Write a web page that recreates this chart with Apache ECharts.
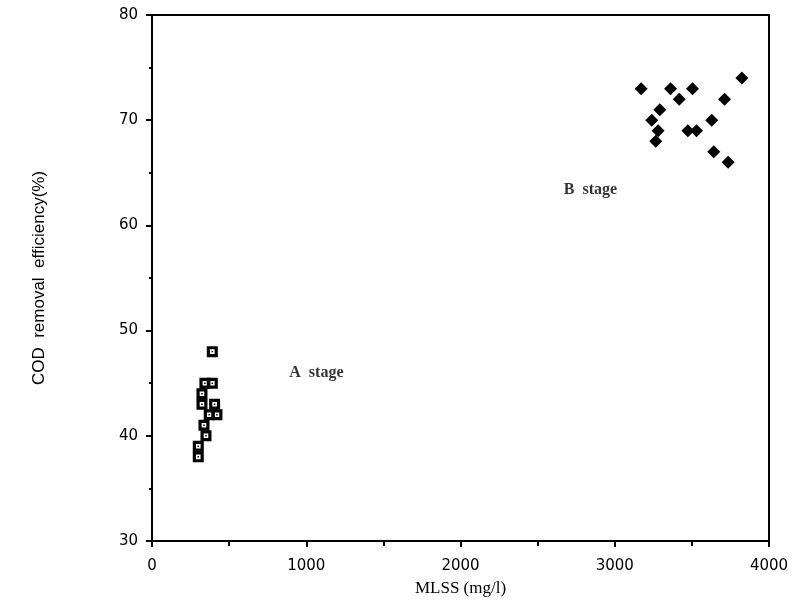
<!DOCTYPE html>
<html>
<head>
<meta charset="utf-8">
<script src="https://cdn.jsdelivr.net/npm/echarts@6/dist/echarts.min.js"></script>
<style>html,body{margin:0;padding:0;background:#fff}#c{width:798px;height:608px}</style>
</head>
<body>
<div id="c"></div>
<script>
// A stage (open squares)
const aStageX = [391, 343, 391, 324, 324, 406, 371, 421, 337, 350, 300, 300];
const aStageY = [48, 45, 45, 44, 43, 43, 42, 42, 41, 40, 39, 38];
// B stage (filled diamonds)
const bStageX = [3171, 3362, 3504, 3824, 3418, 3712, 3292, 3240, 3629, 3281, 3474, 3530, 3266, 3642, 3735];
const bStageY = [73, 73, 73, 74, 72, 72, 71, 70, 70, 69, 69, 69, 68, 67, 66];
// Annotations (data units)
const annotations = [
  { text: 'A  stage', x: 890, y: 46 },
  { text: 'B  stage', x: 2670, y: 63.4 }
];
const xTicks = { min: 0, max: 4000, interval: 1000 };
const yTicks = { min: 30, max: 80, interval: 10 };

const squareSymbol = 'path://M0 0L12 0L12 12L0 12Z M3.5 3.5L3.5 8.5L8.5 8.5L8.5 3.5Z M5.2 5.2L6.8 5.2L6.8 6.8L5.2 6.8Z';

const chart = echarts.init(document.getElementById('c'), null, { renderer: 'canvas' });
const tickFont = 'DejaVu Sans, sans-serif';
chart.setOption({
  animation: false,
  backgroundColor: '#fff',
  grid: { left: 152, right: 29, top: 15, bottom: 67, show: true, borderColor: '#000', borderWidth: 2 },
  xAxis: {
    type: 'value', min: xTicks.min, max: xTicks.max, interval: xTicks.interval,
    name: 'MLSS (mg/l)', nameLocation: 'middle', nameGap: 39,
    nameTextStyle: { fontFamily: 'Liberation Serif, serif', fontSize: 17, color: '#000' },
    axisLine: { lineStyle: { color: '#000', width: 2 } },
    axisTick: { show: true, length: 6, lineStyle: { color: '#000', width: 2 } },
    minorTick: { show: true, splitNumber: 2, length: 5, lineStyle: { color: '#000', width: 2 } },
    axisLabel: { fontFamily: tickFont, fontSize: 15, color: '#000', margin: 18, formatter: v => String(v) },
    splitLine: { show: false }
  },
  yAxis: {
    type: 'value', min: yTicks.min, max: yTicks.max, interval: yTicks.interval,
    name: 'COD  removal  efficiency(%)', nameLocation: 'middle', nameGap: 104, nameRotate: 90,
    nameTextStyle: { fontFamily: 'Liberation Sans Narrow, Arial Narrow, sans-serif', fontSize: 17, color: '#000' },
    axisLine: { lineStyle: { color: '#000', width: 2 } },
    axisTick: { show: true, length: 6, lineStyle: { color: '#000', width: 2 } },
    minorTick: { show: true, splitNumber: 2, length: 3, lineStyle: { color: '#000', width: 2 } },
    axisLabel: { fontFamily: tickFont, fontSize: 15, color: '#000', margin: 14 },
    splitLine: { show: false }
  },
  series: [
    {
      type: 'scatter', name: 'A stage',
      data: aStageX.map((x, i) => [x, aStageY[i]]),
      symbol: squareSymbol, symbolSize: 11,
      itemStyle: { color: '#000', opacity: 1 }
    },
    {
      type: 'scatter', name: 'B stage',
      data: bStageX.map((x, i) => [x, bStageY[i]]),
      symbol: 'diamond', symbolSize: 13,
      itemStyle: { color: '#000', opacity: 1 }
    },
    {
      type: 'scatter', name: 'labels', symbolSize: 0, silent: true,
      data: annotations.map(a => ({ value: [a.x, a.y], name: a.text })),
      label: {
        show: true, position: 'right', distance: 0,
        formatter: p => p.name,
        fontFamily: 'Liberation Serif, serif', fontSize: 16, fontWeight: 'bold', color: '#000'
      }
    }
  ]
});
</script>
</body>
</html>
